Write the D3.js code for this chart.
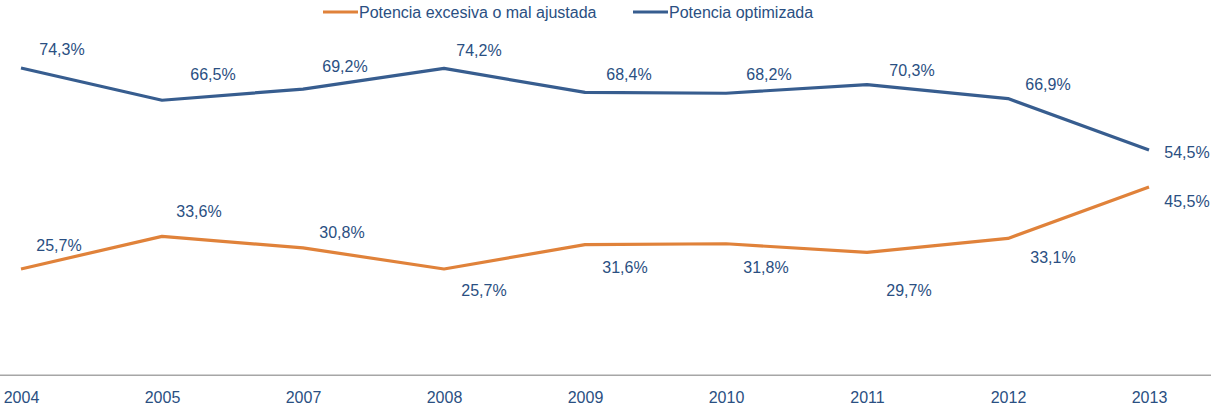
<!DOCTYPE html>
<html lang="es">
	<head>
		<meta charset="utf-8">
		<title>Potencia contratada</title>
		<script type="text/javascript" src="https://cdnjs.cloudflare.com/ajax/libs/d3/7.8.5/d3.min.js"></script>
		<style type="text/css">
			body { margin: 0; background: #fff; }
			text { font-family: "Liberation Sans", Arial, sans-serif; }
		</style>
	</head>
	<body>
		<script type="text/javascript">
			var years = ["2004","2005","2007","2008","2009","2010","2011","2012","2013"];
			var excesiva = [25.7,33.6,30.8,25.7,31.6,31.8,29.7,33.1,45.5];
			var optimizada = [74.3,66.5,69.2,74.2,68.4,68.2,70.3,66.9,54.5];
			var seriesNames = ["Potencia excesiva o mal ajustada","Potencia optimizada"];

			// where each data label sits relative to its point (as placed in the original)
			var labelOffsetExc = [[38,-24],[37,-25],[39,-15],[40,21],[40,23],[40,24],[42,38],[45,19],[38,14]];
			var labelOffsetOpt = [[41,-18],[51,-26],[42,-23],[35,-18],[44,-18],[43,-19],[45,-14],[40,-14],[38,3]];

			var w = 1211;
			var h = 409;
			var blue = "#375d8f";
			var orange = "#e0823a";
			var textColor = "#2a4f82";

			var svg = d3.select("body")
						.append("svg")
						.attr("width",w)
						.attr("height",h);

			var x = d3.scalePoint()
						.domain(years)
						.range([21,1149]);
			var y = d3.scaleLinear()
						.domain([0,100])
						.range([375.3,-38.3]);

			// axis line
			svg.append("line")
				.attr("x1",0).attr("x2",w)
				.attr("y1",y(0)).attr("y2",y(0))
				.attr("stroke","#a6a6a6")
				.attr("stroke-width",1.5);

			var xAxis = svg.append("g")
				.attr("transform","translate(0," + y(0) + ")")
				.call(d3.axisBottom(x).tickSize(0).tickPadding(16));
			xAxis.select(".domain").remove();
			xAxis.selectAll("text")
				.attr("font-size","16px")
				.attr("fill",textColor)
				.style("font-family","'Liberation Sans', Arial, sans-serif");

			var line = d3.line()
						.x(function(d,i){ return x(years[i]); })
						.y(function(d){ return y(d); });

			var series = [
				{ values: excesiva, color: orange, offs: labelOffsetExc },
				{ values: optimizada, color: blue, offs: labelOffsetOpt }
			];

			series.forEach(function(s) {
				svg.append("path")
					.datum(s.values)
					.attr("d",line)
					.attr("fill","none")
					.attr("stroke",s.color)
					.attr("stroke-width",3.2)
					.attr("stroke-linejoin","round");

				svg.selectAll(null)
					.data(s.values)
					.enter()
					.append("text")
					.text(function(d) {
						return d.toFixed(1).replace(".",",") + "%";
					})
					.attr("text-anchor","middle")
					.attr("dominant-baseline","central")
					.attr("x",function(d,i){ return x(years[i]) + s.offs[i][0]; })
					.attr("y",function(d,i){ return y(d) + s.offs[i][1]; })
					.attr("font-size","16px")
					.attr("fill",textColor);
			});

			// legend
			var legend = [
				{ name: seriesNames[0], color: orange, x: 323 },
				{ name: seriesNames[1], color: blue, x: 633 }
			];
			legend.forEach(function(l) {
				svg.append("line")
					.attr("x1",l.x).attr("x2",l.x + 35)
					.attr("y1",12).attr("y2",12)
					.attr("stroke",l.color)
					.attr("stroke-width",3.2);
				svg.append("text")
					.text(l.name)
					.attr("x",l.x + 36)
					.attr("y",12)
					.attr("dominant-baseline","central")
					.attr("font-size","16px")
					.attr("fill",textColor);
			});
		</script>
	</body>
</html>
